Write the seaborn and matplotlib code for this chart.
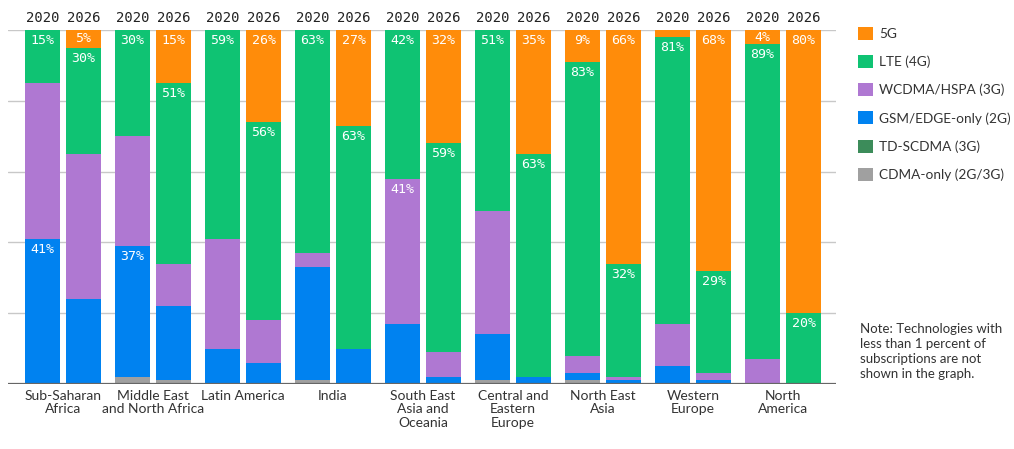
import pandas as pd
import seaborn as sns
import matplotlib.pyplot as plt
from matplotlib.patches import Patch

regions = ["Sub-Saharan\nAfrica", "Middle East\nand North Africa", "Latin America", "India",
           "South East\nAsia and\nOceania", "Central and\nEastern\nEurope", "North East\nAsia",
           "Western\nEurope", "North\nAmerica"]
years = ["2020", "2026"]
techs = ["CDMA-only (2G/3G)", "TD-SCDMA (3G)", "GSM/EDGE-only (2G)", "WCDMA/HSPA (3G)", "LTE (4G)", "5G"]

# shares in percent, bottom to top
cdma_2020 = [0, 2, 0, 1, 0, 1, 1, 0, 0]
tdscdma_2020 = [0, 0, 0, 0, 0, 0, 0, 0, 0]
gsm_2020 = [41, 37, 10, 32, 17, 13, 2, 5, 0]
wcdma_2020 = [44, 31, 31, 4, 41, 35, 5, 12, 7]
lte_2020 = [15, 30, 59, 63, 42, 51, 83, 81, 89]
nr_2020 = [0, 0, 0, 0, 0, 0, 9, 2, 4]

cdma_2026 = [0, 1, 0, 0, 0, 0, 0, 0, 0]
tdscdma_2026 = [0, 0, 0, 0, 0, 0, 0, 0, 0]
gsm_2026 = [24, 21, 6, 10, 2, 2, 1, 1, 0]
wcdma_2026 = [41, 12, 12, 0, 7, 0, 1, 2, 0]
lte_2026 = [30, 51, 56, 63, 59, 63, 32, 29, 20]
nr_2026 = [5, 15, 26, 27, 32, 35, 66, 68, 80]

# which segments carry a value label
labelled = [(0, "2020", "LTE (4G)"), (0, "2020", "GSM/EDGE-only (2G)"), (0, "2026", "5G"), (0, "2026", "LTE (4G)"),
            (1, "2020", "LTE (4G)"), (1, "2020", "GSM/EDGE-only (2G)"), (1, "2026", "5G"), (1, "2026", "LTE (4G)"),
            (2, "2020", "LTE (4G)"), (2, "2026", "5G"), (2, "2026", "LTE (4G)"),
            (3, "2020", "LTE (4G)"), (3, "2026", "5G"), (3, "2026", "LTE (4G)"),
            (4, "2020", "LTE (4G)"), (4, "2020", "WCDMA/HSPA (3G)"), (4, "2026", "5G"), (4, "2026", "LTE (4G)"),
            (5, "2020", "LTE (4G)"), (5, "2026", "5G"), (5, "2026", "LTE (4G)"),
            (6, "2020", "5G"), (6, "2020", "LTE (4G)"), (6, "2026", "5G"), (6, "2026", "LTE (4G)"),
            (7, "2020", "LTE (4G)"), (7, "2026", "5G"), (7, "2026", "LTE (4G)"),
            (8, "2020", "5G"), (8, "2020", "LTE (4G)"), (8, "2026", "5G"), (8, "2026", "LTE (4G)")]

colors = {"5G": "#FF8C0A", "LTE (4G)": "#0FC373", "WCDMA/HSPA (3G)": "#AF78D2",
          "GSM/EDGE-only (2G)": "#0082F0", "TD-SCDMA (3G)": "#3C8C5A", "CDMA-only (2G/3G)": "#A0A0A0"}

series = {"2020": [cdma_2020, tdscdma_2020, gsm_2020, wcdma_2020, lte_2020, nr_2020],
          "2026": [cdma_2026, tdscdma_2026, gsm_2026, wcdma_2026, lte_2026, nr_2026]}

rows = []
for y in years:
    for i, r in enumerate(regions):
        cum = 0
        for t, vals in zip(techs, series[y]):
            cum += vals[i]
            rows.append({"region": r, "idx": i, "year": y, "tech": t, "value": vals[i], "top": cum})
df = pd.DataFrame(rows)

sns.set_style("white")
plt.rcParams["font.family"] = ["Lato", "DejaVu Sans"]

fig = plt.figure(figsize=(10.14, 4.49), dpi=100)
ax = fig.add_axes([8 / 1014, 65 / 449, 828 / 1014, 354 / 449])

for v in [20, 40, 60, 80, 100]:
    ax.axhline(v, color="#c8c8c8", lw=1, zorder=0)

# overlapping cumulative bars, top technology first
for t in techs[::-1]:
    sub = df[df.tech == t]
    sns.barplot(data=sub, x="region", y="top", hue="year", order=regions, hue_order=years,
                palette={y: colors[t] for y in years}, width=0.911, gap=0.146, dodge=True,
                saturation=1, errorbar=None, legend=False, linewidth=0, ax=ax, zorder=2)

ax.axhline(0, color="#666666", lw=1.6, zorder=3)

off = {"2020": -0.228, "2026": 0.228}
for i, y, t in labelled:
    row = df[(df.idx == i) & (df.year == y) & (df.tech == t)].iloc[0]
    ypos = row.top - 3 if row.value >= 6 else row.top - row.value / 2
    ax.text(i + off[y], ypos, f"{row.value}%", ha="center", va="center", color="white",
            fontsize=9.5, family="DejaVu Sans Mono", zorder=4)

for i in range(len(regions)):
    for y in years:
        ax.text(i + off[y], 101.3, y, ha="center", va="bottom", color="#222222",
                fontsize=10, family="DejaVu Sans Mono")

ax.set_xlim(-0.611, 8.589)
ax.set_ylim(0, 100)
ax.set_yticks([])
ax.set_xlabel("")
ax.set_ylabel("")
ax.set_xticks(range(len(regions)))
ax.set_xticklabels(regions, fontsize=10, color="#333333", linespacing=1.15)
ax.tick_params(axis="x", length=0, pad=4)
sns.despine(ax=ax, left=True, bottom=True)

handles = [Patch(facecolor=colors[t], edgecolor="none", label=t) for t in techs[::-1]]
fig.legend(handles=handles, loc="upper left", bbox_to_anchor=(858 / 1014, 1 - 27 / 449), frameon=False,
           borderpad=0, borderaxespad=0, fontsize=9.8, handlelength=1.1, handleheight=1.1,
           labelspacing=1.1, handletextpad=0.45, labelcolor="#333333")

fig.text(860 / 1014, 1 - 323 / 449, "Note: Technologies with\nless than 1 percent of\nsubscriptions are not\nshown in the graph.",
         ha="left", va="top", fontsize=9.5, color="#333333", linespacing=1.3)

plt.savefig("out.png", dpi=100)
